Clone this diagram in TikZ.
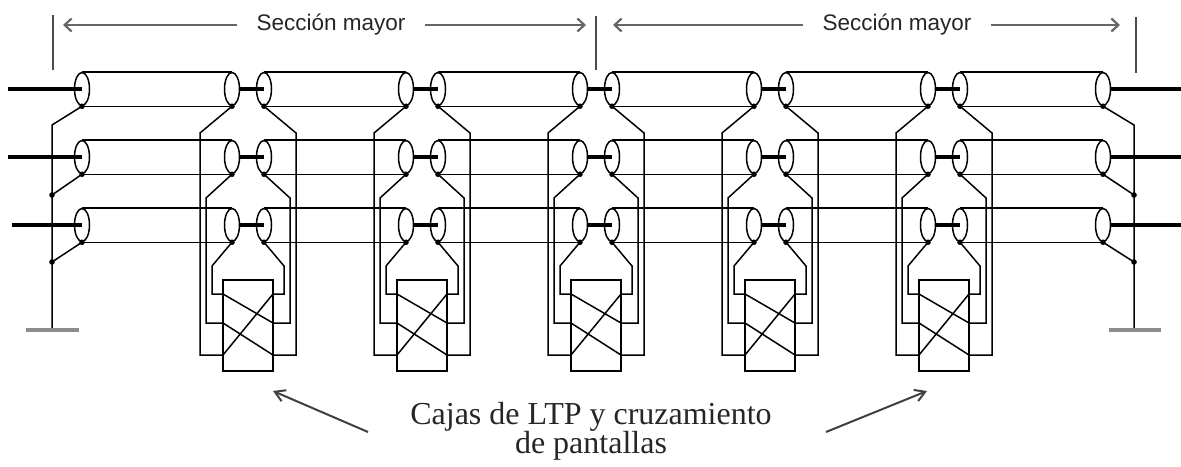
\documentclass[tikz,border=0pt]{standalone}
\usepackage{fontspec}
\setmainfont{Liberation Serif}
\newfontfamily\secfont{Liberation Sans}
\usetikzlibrary{shapes.geometric,arrows.meta}
\newcommand{\capfont}{\fontsize{32}{29}\selectfont\lineskiplimit=-40pt\relax}

\tikzset{
  term/.style={ellipse, draw, line width=1.5pt, minimum width=15pt, minimum height=33pt, inner sep=0pt},
  sheath/.style={line width=1.5pt},
  cond/.style={line width=3.6pt},
  lead/.style={line width=1.5pt},
  ltp/.style={draw, line width=1.5pt, minimum width=50pt, minimum height=91pt, inner sep=0pt},
  earth/.style={line width=4.5pt, color=black!45},
  tick/.style={line width=1.3pt, color=black!70},
  dim/.style={line width=2.2pt, color=black!60, -{Straight Barb[length=7pt,width=13pt]}},
  seclabel/.style={font=\secfont\fontsize{22.5}{27}\selectfont, text=black!85, inner xsep=19pt, inner ysep=0pt},
  caption/.style={font=\capfont, align=center, inner sep=0pt, text=black!85},
  pointer/.style={line width=2pt, color=black!75, -{Straight Barb[length=10pt,width=12pt]}}
}

% one LTP box with its three pairs of terminations: #1 name, #2 centre x
\newcommand{\ltpbox}[2]{%
  \node[term] (#1a1) at (#2-16,89) {};
  \node[term] (#1b1) at (#2+16,89) {};
  \node[term] (#1a2) at (#2-16,157) {};
  \node[term] (#1b2) at (#2+16,157) {};
  \node[term] (#1a3) at (#2-16,225) {};
  \node[term] (#1b3) at (#2+16,225) {};
  \node[ltp] (#1box) at (#2,325.5) {};
  \coordinate (#1l1) at (#2-25,355); \coordinate (#1r1) at (#2+25,355);
  \coordinate (#1l2) at (#2-25,323); \coordinate (#1r2) at (#2+25,323);
  \coordinate (#1l3) at (#2-25,294); \coordinate (#1r3) at (#2+25,294);
  \draw[cond] (#1a1.east) -- (#1b1.center);
  \draw[cond] (#1a2.east) -- (#1b2.center);
  \draw[cond] (#1a3.east) -- (#1b3.center);
  \draw[lead] (#1a1.south) -- (#2-48,133) |- (#1l1);
  \draw[lead] (#1b1.south) -- (#2+48,133) |- (#1r1);
  \draw[lead] (#1a2.south) -- (#2-42,198) |- (#1l2);
  \draw[lead] (#1b2.south) -- (#2+42,198) |- (#1r2);
  \draw[lead] (#1a3.south) -- (#2-36,266) |- (#1l3);
  \draw[lead] (#1b3.south) -- (#2+36,266) |- (#1r3);
  \draw[lead] (#1l3) -- (#1r2) (#1r3) -- (#1l1) (#1l2) -- (#1r1);
  \fill (#1a1.south) circle (2.8); \fill (#1b1.south) circle (2.8);
  \fill (#1a2.south) circle (2.8); \fill (#1b2.south) circle (2.8);
  \fill (#1a3.south) circle (2.8); \fill (#1b3.south) circle (2.8);
}

\begin{document}
\begin{tikzpicture}[x=1pt,y=-1pt]
  \useasboundingbox (0,0) rectangle (1181,466);

  % major sections
  \coordinate (t1a) at (53,15);   \coordinate (t1b) at (53,70);
  \coordinate (t2a) at (596,16);  \coordinate (t2b) at (596,70);
  \coordinate (t3a) at (1136,17); \coordinate (t3b) at (1136,73);
  \draw[tick] (t1a) -- (t1b);
  \draw[tick] (t2a) -- (t2b);
  \draw[tick] (t3a) -- (t3b);
  \node[seclabel] (sec1) at (331,25) {Sección mayor};
  \node[seclabel] (sec2) at (897,25) {Sección mayor};
  \coordinate (s1l) at (63,25);  \coordinate (s1r) at (586,25);
  \coordinate (s2l) at (613,25); \coordinate (s2r) at (1120,25);
  \draw[dim] (sec1.west) -- (s1l);
  \draw[dim] (sec1.east) -- (s1r);
  \draw[dim] (sec2.west) -- (s2l);
  \draw[dim] (sec2.east) -- (s2r);

  \ltpbox{J1}{248}
  \ltpbox{J2}{422}
  \ltpbox{J3}{596}
  \ltpbox{J4}{770}
  \ltpbox{J5}{944}

  % cable ends
  \node[term] (L1) at (82,89) {};
  \node[term] (L2) at (82,157) {};
  \node[term] (L3) at (82,225) {};
  \node[term] (R1) at (1103,89) {};
  \node[term] (R2) at (1103,157) {};
  \node[term] (R3) at (1103,225) {};

  \foreach \r in {1,2,3} {
    \foreach \s/\t in {L/J1a, J1b/J2a, J2b/J3a, J3b/J4a, J4b/J5a, J5b/R} {
      \draw[sheath] (\s\r.north) -- (\t\r.north) (\s\r.south) -- (\t\r.south);
    }
  }

  \coordinate (w1) at (8,89);    \coordinate (e1) at (1181,89);
  \coordinate (w2) at (8,157);   \coordinate (e2) at (1181,157);
  \coordinate (w3) at (12,225);  \coordinate (e3) at (1181,225);
  \draw[cond] (w1) -- (L1.center);
  \draw[cond] (w2) -- (L2.center);
  \draw[cond] (w3) -- (L3.center);
  \draw[cond] (R1.east) -- (e1);
  \draw[cond] (R2.east) -- (e2);
  \draw[cond] (R3.east) -- (e3);

  % solid bonding at both ends
  \coordinate (kl) at (52,125);   \coordinate (kr) at (1134,125);
  \coordinate (bl2) at (52,195);  \coordinate (br2) at (1134,195);
  \coordinate (bl3) at (52,262);  \coordinate (br3) at (1134,262);
  \coordinate (gl) at (52,330);   \coordinate (gr) at (1134,330);
  \draw[lead] (L1.south) -- (kl) -- (gl);
  \draw[lead] (L2.south) -- (bl2);
  \draw[lead] (L3.south) -- (bl3);
  \draw[lead] (R1.south) -- (kr) -- (gr);
  \draw[lead] (R2.south) -- (br2);
  \draw[lead] (R3.south) -- (br3);
  \fill (L1.south) circle (2.8); \fill (L2.south) circle (2.8); \fill (L3.south) circle (2.8);
  \fill (R1.south) circle (2.8); \fill (R2.south) circle (2.8); \fill (R3.south) circle (2.8);
  \fill (bl2) circle (2.8); \fill (bl3) circle (2.8);
  \fill (br2) circle (2.8); \fill (br3) circle (2.8);
  \draw[earth] ([xshift=-26pt]gl) -- ([xshift=27pt]gl);
  \draw[earth] ([xshift=-25pt]gr) -- ([xshift=27pt]gr);

  \node[caption, anchor=north] (cap) at (591,402) {Cajas de LTP y cruzamiento\\de pantallas};
  \coordinate (ql) at (368,432); \coordinate (pl) at (273,391);
  \coordinate (qr) at (826,432); \coordinate (pr) at (927,391);
  \draw[pointer] (ql) -- (pl);
  \draw[pointer] (qr) -- (pr);
\end{tikzpicture}
\end{document}
